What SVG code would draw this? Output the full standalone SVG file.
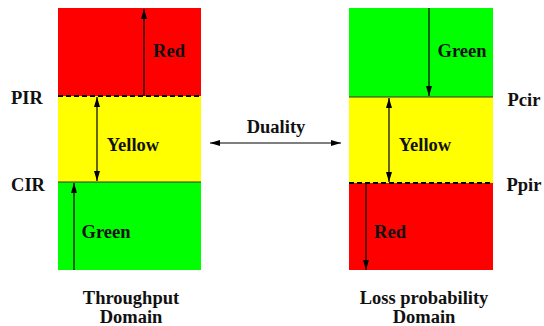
<svg xmlns="http://www.w3.org/2000/svg" width="544" height="326" viewBox="0 0 544 326">
<style>
text{font-family:"Liberation Serif","Times New Roman",serif;font-weight:bold;font-size:18.5px;fill:#111}
.c{text-anchor:middle}
.ar{stroke:#000;stroke-width:1.2;fill:none}
.dash{stroke:#000;stroke-width:2.2;stroke-dasharray:5,3}
.solid{stroke:#333;stroke-width:1.2}
</style>
<defs>
<marker id="ah" viewBox="0 0 10 6" refX="10" refY="3" markerWidth="10" markerHeight="6" markerUnits="userSpaceOnUse" orient="auto-start-reverse">
<path d="M0,0 L10,3 L0,6 z" fill="#000"/>
</marker>
</defs>
<g id="throughput">
<rect x="58" y="8" width="143" height="88" fill="#ff0000"/>
<rect x="58" y="96" width="143" height="86" fill="#ffff00"/>
<rect x="58" y="182" width="143" height="88" fill="#00ff00"/>
<line class="solid" x1="58" y1="182" x2="201" y2="182"/>
<line class="dash" x1="58" y1="96" x2="201" y2="96"/>
<text x="169" y="57" class="c">Red</text>
<text x="133" y="151" class="c">Yellow</text>
<text x="106" y="238" class="c">Green</text>
<text x="27" y="104" class="c">PIR</text>
<text x="28" y="191" class="c">CIR</text>
<text x="131" y="304" class="c">Throughput</text>
<text x="131" y="323" class="c">Domain</text>
</g>
<g id="loss">
<rect x="349" y="8" width="144" height="89" fill="#00ff00"/>
<rect x="349" y="97" width="144" height="86" fill="#ffff00"/>
<rect x="349" y="183" width="144" height="87" fill="#ff0000"/>
<line class="solid" x1="349" y1="97" x2="493" y2="97"/>
<line class="dash" x1="349" y1="183" x2="493" y2="183"/>
<text x="462" y="57" class="c">Green</text>
<text x="425" y="151" class="c">Yellow</text>
<text x="390" y="238" class="c">Red</text>
<text x="524" y="106" class="c">Pcir</text>
<text x="524" y="191" class="c">Ppir</text>
<text x="424" y="304" class="c">Loss probability</text>
<text x="424" y="323" class="c">Domain</text>
</g>
<g id="duality">
<text x="276" y="133" class="c">Duality</text>
</g>
<g id="connectors">
<line class="ar" x1="144" y1="96" x2="144" y2="9" marker-end="url(#ah)"/>
<line class="ar" x1="97" y1="97" x2="97" y2="181" marker-start="url(#ah)" marker-end="url(#ah)"/>
<line class="ar" x1="74" y1="270" x2="74" y2="183" marker-end="url(#ah)"/>
<line class="ar" x1="429" y1="8" x2="429" y2="96" marker-end="url(#ah)"/>
<line class="ar" x1="389" y1="98" x2="389" y2="182" marker-start="url(#ah)" marker-end="url(#ah)"/>
<line class="ar" x1="366" y1="184" x2="366" y2="270" marker-end="url(#ah)"/>
<line class="ar" x1="210" y1="143" x2="341" y2="143" marker-start="url(#ah)" marker-end="url(#ah)"/>
</g>
</svg>
